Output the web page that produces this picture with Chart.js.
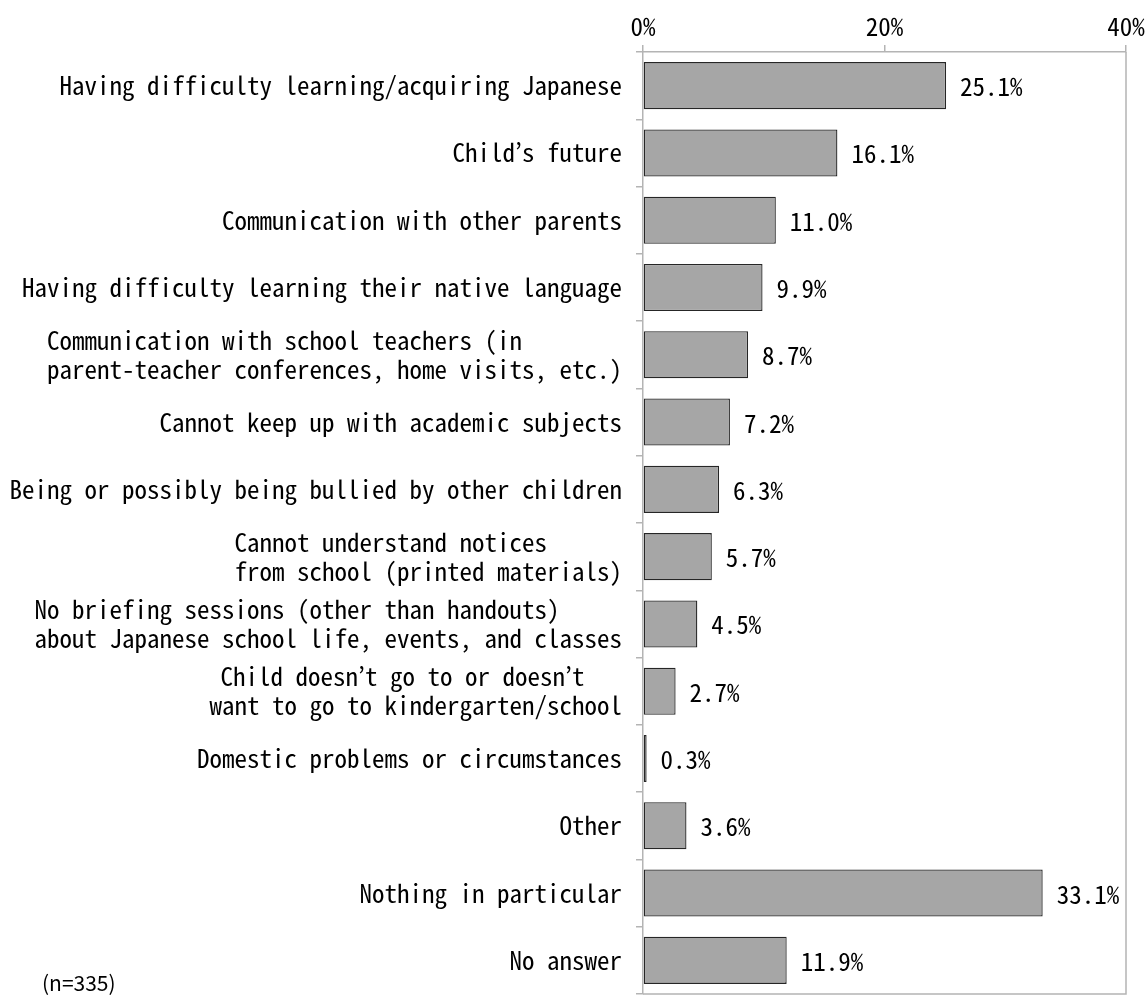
<!DOCTYPE html>
<html>
<head>
<meta charset="utf-8">
<script src="https://cdn.jsdelivr.net/npm/chart.js@4.4.1/dist/chart.umd.min.js"></script>
<style>
  html, body { margin: 0; padding: 0; background: #ffffff; }
  #wrap { width: 1147px; height: 996px; position: relative; }
</style>
</head>
<body>
<div id="wrap"><canvas id="chart" width="1147" height="996"></canvas></div>
<script>
// ---- data ----
const categories = [
  'Having difficulty learning/acquiring Japanese',
  'Child\u2019s future',
  'Communication with other parents',
  'Having difficulty learning their native language',
  ['Communication with school teachers (in', 'parent-teacher conferences, home visits, etc.)'],
  'Cannot keep up with academic subjects',
  'Being or possibly being bullied by other children',
  ['Cannot understand notices', 'from school (printed materials)'],
  ['No briefing sessions (other than handouts)', 'about Japanese school life, events, and classes'],
  ['Child doesn\u2019t go to or doesn\u2019t', 'want to go to kindergarten/school'],
  'Domestic problems or circumstances',
  'Other',
  'Nothing in particular',
  'No answer'
];
const values = [25.1, 16.1, 11.0, 9.9, 8.7, 7.2, 6.3, 5.7, 4.5, 2.7, 0.3, 3.6, 33.1, 11.9];
const xTickValues = [0, 20, 40];
const xTickLabels = ['0%', '20%', '40%'];
const sampleNote = '(n=335)';

// ---- font selection (monospace, MS Gothic-like) ----
function pickFont() {
  const c = document.createElement('canvas').getContext('2d');
  c.font = '100px "Noto Sans Mono CJK JP"';
  const w = c.measureText('abcdefghij').width;
  if (Math.abs(w - 500) < 6) return { family: '"Noto Sans Mono CJK JP", monospace', size: 25 };
  return { family: '"DejaVu Sans Mono", monospace', size: 20.7 };
}
const F = pickFont();

// left-align lines of a multi-line label inside a right-aligned block (monospace)
function blockLabel(l) {
  if (!Array.isArray(l)) return l;
  const n = Math.max(...l.map(s => s.length));
  return l.map(s => s + ' '.repeat(n - s.length));
}
const yLabels = categories.map(blockLabel);

const AXIS = '#b4b4b4';

const valueLabels = {
  id: 'valueLabels',
  afterDatasetsDraw(chart) {
    const ctx = chart.ctx;
    const meta = chart.getDatasetMeta(0);
    ctx.save();
    ctx.font = F.size + 'px ' + F.family;
    ctx.fillStyle = '#000';
    ctx.textAlign = 'left';
    ctx.textBaseline = 'middle';
    meta.data.forEach((bar, i) => {
      ctx.fillText(values[i].toFixed(1) + '%', bar.x + 14, bar.y + 1);
    });
    ctx.restore();
  }
};

const frame = {
  id: 'frame',
  afterDraw(chart) {
    const a = chart.chartArea;
    const ctx = chart.ctx;
    ctx.save();
    ctx.strokeStyle = AXIS;
    ctx.lineWidth = 1.5;
    ctx.beginPath();
    ctx.moveTo(a.right, a.top);
    ctx.lineTo(a.right, a.bottom);
    ctx.lineTo(a.left, a.bottom);
    ctx.stroke();
    // sample size note
    ctx.font = '21px "Noto Sans CJK JP", sans-serif';
    ctx.fillStyle = '#000';
    ctx.textAlign = 'left';
    ctx.textBaseline = 'alphabetic';
    ctx.fillText(sampleNote, 42, 991);
    ctx.restore();
  }
};

new Chart(document.getElementById('chart'), {
  type: 'bar',
  data: {
    labels: yLabels,
    datasets: [{
      data: values,
      backgroundColor: '#a6a6a6',
      borderColor: '#262626',
      borderWidth: 1.3,
      borderSkipped: false,
      barPercentage: 0.7,
      categoryPercentage: 1.0
    }]
  },
  options: {
    indexAxis: 'y',
    responsive: false,
    animation: false,
    events: [],
    layout: { padding: { left: 0, right: 21, top: 0, bottom: 2 } },
    plugins: { legend: { display: false }, tooltip: { enabled: false } },
    scales: {
      x: {
        position: 'top',
        min: 0,
        max: 40,
        afterBuildTicks(scale) { scale.ticks = xTickValues.map(v => ({ value: v })); },
        afterFit(scale) {
          scale.height = 52;
          scale.paddingLeft = 0; scale.paddingRight = 0;
          scale.paddingTop = 0; scale.paddingBottom = 0;
        },
        ticks: {
          callback: (v) => xTickLabels[xTickValues.indexOf(v)],
          color: '#000',
          font: { family: F.family, size: F.size },
          padding: 4,
          maxRotation: 0
        },
        grid: { display: true, drawOnChartArea: false, drawTicks: true, tickLength: 7, color: AXIS, lineWidth: 1.5 },
        border: { display: true, color: AXIS, width: 1.5 }
      },
      y: {
        afterFit(scale) {
          scale.width = 643;
          scale.paddingTop = 0; scale.paddingBottom = 0;
          scale.paddingLeft = 0; scale.paddingRight = 0;
        },
        ticks: {
          color: '#000',
          font: { family: F.family, size: F.size, lineHeight: 1.15 },
          padding: 14,
          autoSkip: false
        },
        grid: { display: true, offset: true, drawOnChartArea: false, drawTicks: true, tickLength: 7, color: AXIS, lineWidth: 1.5 },
        border: { display: true, color: AXIS, width: 1.5 }
      }
    }
  },
  plugins: [valueLabels, frame]
});
</script>
</body>
</html>
